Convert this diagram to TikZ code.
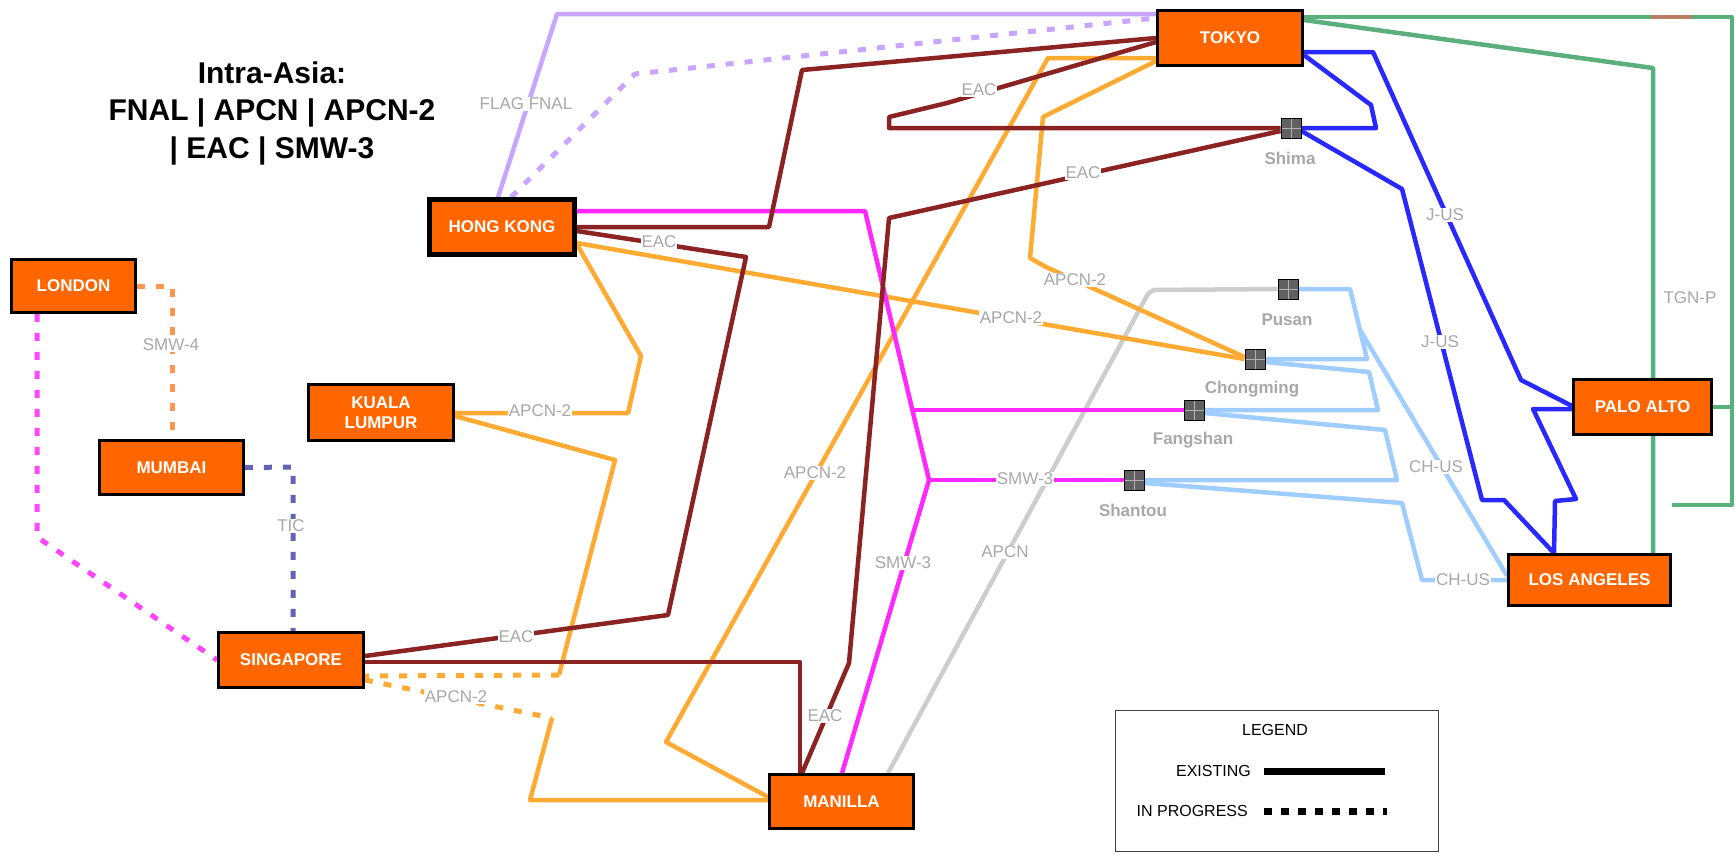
\documentclass[tikz,border=0pt]{standalone}
\usepackage{fontspec}
\setmainfont{Liberation Sans}
\pgfdeclarelayer{bg}
\pgfsetlayers{bg,main}
\definecolor{cityfill}{RGB}{255,102,0}
\definecolor{labelgray}{RGB}{168,168,168}
\definecolor{eaccol}{RGB}{140,35,35}
\definecolor{apcntwocol}{RGB}{255,170,50}
\definecolor{smwcol}{RGB}{255,40,255}
\definecolor{apcncol}{RGB}{205,205,205}
\definecolor{chuscol}{RGB}{160,205,255}
\definecolor{juscol}{RGB}{40,40,255}
\definecolor{tgncol}{RGB}{90,175,125}
\definecolor{flagcol}{RGB}{200,165,255}
\definecolor{smwfourcol}{RGB}{255,150,80}
\definecolor{lonsincol}{RGB}{255,70,255}
\definecolor{ticcol}{RGB}{100,100,180}
\definecolor{brownseg}{RGB}{185,125,100}
\begin{document}
\begin{tikzpicture}[x=1pt,y=-1pt,
  city/.style={draw=black, line width=2.8pt, fill=cityfill, text=white,
    font=\bfseries\fontsize{17}{20.5}\selectfont, inner sep=0pt, align=center},
  junc/.style={draw=black, line width=1pt, fill=black!62, minimum size=20pt, inner sep=0pt,
    path picture={\draw[black!30,line width=0.9pt]
      (path picture bounding box.north) -- (path picture bounding box.south)
      (path picture bounding box.west) -- (path picture bounding box.east);}},
  lbl/.style={text=labelgray, font=\fontsize{17}{20}\selectfont, fill=white, inner sep=1pt},
  jlbl/.style={text=labelgray, font=\bfseries\fontsize{17}{20}\selectfont, inner sep=0pt},
  cable/.style={line width=4.5pt, line join=round},
  inprog/.style={line width=5pt, dash pattern=on 8pt off 11pt},
  eac/.style={cable, draw=eaccol},
  apcntwo/.style={cable, draw=apcntwocol},
  smw/.style={cable, draw=smwcol},
  apcn/.style={cable, draw=apcncol, rounded corners=6pt},
  chus/.style={cable, draw=chuscol},
  jus/.style={cable, draw=juscol},
  tgn/.style={cable, draw=tgncol},
  flag/.style={cable, draw=flagcol},
  legtext/.style={font=\fontsize{16}{19}\selectfont, inner sep=0pt}
]
\useasboundingbox (0,0) rectangle (1736,855);

% ---- city nodes
\node[city, minimum width=145pt, minimum height=55pt] (tokyo) at (1230,38) {TOKYO};
\node[city, line width=4.5pt, minimum width=145pt, minimum height=55pt] (hk) at (502,227) {HONG KONG};
\node[city, minimum width=124pt, minimum height=53pt] (london) at (73.5,286) {LONDON};
\node[city, minimum width=145pt, minimum height=56pt] (kl) at (381,412.5) {KUALA\\LUMPUR};
\node[city, minimum width=144pt, minimum height=54pt] (mumbai) at (171.5,467.5) {MUMBAI};
\node[city, minimum width=145pt, minimum height=55pt] (singapore) at (291,660) {SINGAPORE};
\node[city, minimum width=144pt, minimum height=54pt] (manilla) at (841.5,801.5) {MANILLA};
\node[city, minimum width=138pt, minimum height=55pt] (paloalto) at (1642.5,407) {PALO ALTO};
\node[city, minimum width=162pt, minimum height=51pt] (la) at (1589.5,580) {LOS ANGELES};

% ---- junctions
\node[junc] (shima) at (1291,128) {};
\node[junc] (pusan) at (1288,289) {};
\node[junc] (chongming) at (1255,359) {};
\node[junc] (fangshan) at (1194,410) {};
\node[junc] (shantou) at (1134,480) {};
\node[jlbl] (shimal) at (1290,158) {Shima};
\node[jlbl] (pusanl) at (1287,320) {Pusan};
\node[jlbl] (chongmingl) at (1252,389) {Chongming};
\node[jlbl] (fangshanl) at (1193,440) {Fangshan};
\node[jlbl] (shantoul) at (1133,510) {Shantou};

% ---- helper coordinates
\coordinate (smwA) at (912,410);
\coordinate (smwB) at (929,480);
\coordinate (chjoin) at (1360,330);
\coordinate (tgnR) at (1732,407);
\coordinate (a5k) at (559,675);
\coordinate (a6k) at (552,718);
\coordinate (tgnbA) at (1651,17);
\coordinate (tgnbB) at (1692,17);

\begin{pgfonlayer}{bg}
% TGN-P
\draw[tgn] (tokyo.east |- 0,17) -- (1732,17) -- (1732,505) -- (la.east |- 0,505);
\draw[tgn] (paloalto.east) -- (tgnR);
\draw[tgn] (tokyo.east |- 0,20) -- (1653,68) -- (la.north -| 1653,0);
\draw[cable, draw=brownseg] (tgnbA) -- (tgnbB);
% FLAG
\draw[flag] (hk.north -| 498,0) -- (557,14) -- (tokyo.west |- 0,14);
\draw[flag, inprog] (hk.north -| 511,0) -- (635,74) -- (tokyo.west |- 0,18);
% APCN
\draw[apcn] (manilla.north -| 888,0) -- (1150,290) -- (pusan.west);
% CH-US
\draw[chus] (pusan.east) -- (1350,289) -- (chjoin) -- (la.west |- 0,576);
\draw[chus] (chongming.east) -- (1367,359) -- (chjoin);
\draw[chus] (chongming.east |- 0,362) -- (1369,372) -- (1378,410) -- (fangshan.east);
\draw[chus] (fangshan.east |- 0,413) -- (1385,430) -- (1397,480) -- (shantou.east);
\draw[chus] (shantou.east |- 0,483) -- (1402,503) -- (1422,580) -- (la.west |- 0,580);
% J-US
\draw[jus] (tokyo.east |- 0,52) -- (1373,52) -- (1521,380) -- (paloalto.west |- 0,406);
\draw[jus] (tokyo.east |- 0,55) -- (1371,105) -- (1376,128) -- (shima.east);
\draw[jus] (shima.east |- 0,131) -- (1402,189) -- (1482,500) -- (1504,500) -- (la.north -| 1554,0);
\draw[jus] (paloalto.west |- 0,409) -- (1533,409) -- (1576,499) -- (1555,501) -- (la.north -| 1554,0);
% APCN-2
\draw[apcntwo] (hk.east |- 0,243) -- (chongming.west);
\draw[apcntwo] (tokyo.west |- 0,58) -- (1048,58) -- (666,742) -- (manilla.west |- 0,797);
\draw[apcntwo] (tokyo.west |- 0,61) -- (1043,117) -- (1030,258) -- (1046,267) -- (chongming.west |- 0,357);
\draw[apcntwo] (hk.east |- 0,244) -- (641,356) -- (628,413) -- (kl.east |- 0,413);
\draw[apcntwo] (kl.east |- 0,416) -- (615,460) -- (a5k);
\draw[apcntwo, inprog] (a5k) -- (singapore.east |- 0,676);
\draw[apcntwo, inprog] (singapore.east |- 0,680) -- (a6k);
\draw[apcntwo] (a6k) -- (530,800) -- (manilla.west |- 0,800);
% SMW-3
\draw[smw] (hk.east |- 0,211) -- (865,211) -- (smwB) -- (manilla.north -| 842,0);
\draw[smw] (smwA) -- (fangshan.west);
\draw[smw] (smwB) -- (shantou.west);
% EAC
\draw[eac] (hk.east) -- (769,227) -- (802,70) -- (tokyo.west |- 0,38);
\draw[eac] (tokyo.west |- 0,42) -- (947,103) -- (889,117) -- (889,128) -- (shima.west);
\draw[eac] (shima.west |- 0,131) -- (889,218) -- (849,663) -- (manilla.north -| 802,0);
\draw[eac] (hk.east |- 0,231) -- (746,257) -- (668,615) -- (singapore.east |- 0,656);
\draw[eac] (singapore.east |- 0,662) -- (800,662) -- (manilla.north -| 800,0);
% in-progress westward links
\draw[inprog, draw=smwfourcol] (london.east) -- (172,286) -- (mumbai.north -| 172,0);
\draw[inprog, draw=lonsincol] (london.south -| 37,0) -- (37,537) -- (singapore.west);
\draw[inprog, draw=ticcol] (mumbai.east) -- (293,467) -- (singapore.north -| 293,0);
\end{pgfonlayer}

% ---- cable labels
\node[lbl] (lflag) at (526,104) {FLAG FNAL};
\node[lbl] (le1) at (979,90) {EAC};
\node[lbl] (le2) at (1083,173) {EAC};
\node[lbl] (le3) at (659,242) {EAC};
\node[lbl] (le4) at (516,637) {EAC};
\node[lbl] (le5) at (825,716) {EAC};
\node[lbl] (la1) at (1011,318) {APCN-2};
\node[lbl] (la2) at (1075,280) {APCN-2};
\node[lbl] (la3) at (815,473) {APCN-2};
\node[lbl] (la4) at (540,411) {APCN-2};
\node[lbl] (la5) at (456,697) {APCN-2};
\node[lbl] (lapcn) at (1005,552) {APCN};
\node[lbl] (ls1) at (1025,479) {SMW-3};
\node[lbl] (ls2) at (903,563) {SMW-3};
\node[lbl] (ls4) at (171,345) {SMW-4};
\node[lbl] (ltic) at (291,526) {TIC};
\node[lbl] (lj1) at (1445,215) {J-US};
\node[lbl] (lj2) at (1440,342) {J-US};
\node[lbl] (lc1) at (1436,467) {CH-US};
\node[lbl] (lc2) at (1463,580) {CH-US};
\node[lbl] (ltgn) at (1690,298) {TGN-P};

% ---- title
\node[font=\bfseries\fontsize{30}{37.5}\selectfont, align=center, inner sep=0pt] (title) at (272,113)
  {Intra-Asia:\\FNAL | APCN | APCN-2\\| EAC | SMW-3};

% ---- legend
\node[draw=black!75, line width=1.2pt, minimum width=323pt, minimum height=141pt, inner sep=0pt] (legend) at (1277,781) {};
\node[legtext] (legt) at (1275,730) {LEGEND};
\node[legtext, anchor=east] (legex) at (1251,771) {EXISTING};
\node[legtext, anchor=east] (legip) at (1248,811) {IN PROGRESS};
\coordinate (lexa) at (1264,771);
\coordinate (lexb) at (1385,771);
\coordinate (lipa) at (1264,811);
\coordinate (lipb) at (1387,811);
\draw[line width=7pt] (lexa) -- (lexb);
\draw[line width=7pt, dash pattern=on 8pt off 9pt] (lipa) -- (lipb);
\end{tikzpicture}
\end{document}
